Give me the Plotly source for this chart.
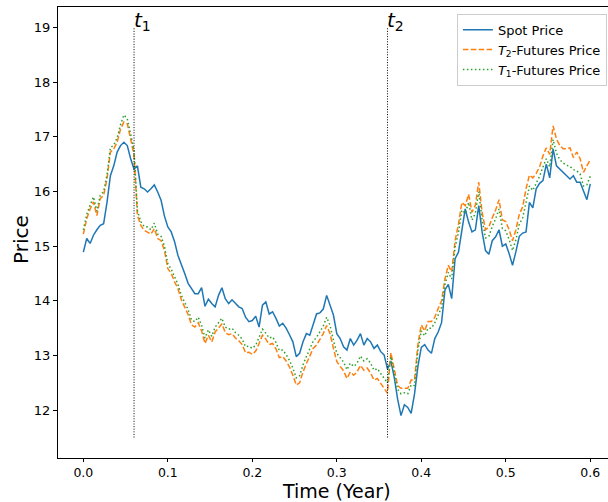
import plotly.graph_objects as go

# trading days (t = day / 250 years)
days = list(range(151))
t = [d / 250 for d in days]

spot = [14.89, 15.14, 15.05, 15.20, 15.30, 15.38, 15.41, 15.80, 16.29, 16.47,
        16.72, 16.84, 16.90, 16.84, 16.60, 16.41, 16.47, 16.08, 16.05, 15.99,
        16.05, 16.12, 15.99, 15.84, 15.55, 15.35, 15.26, 15.08, 14.83, 14.68,
        14.50, 14.32, 14.22, 14.13, 14.13, 14.24, 13.90, 14.03, 13.95, 13.89,
        14.10, 14.24, 14.04, 13.95, 14.02, 13.96, 13.89, 13.86, 13.70, 13.62,
        13.64, 13.72, 13.52, 13.92, 13.98, 13.76, 13.80, 13.68, 13.54, 13.59,
        13.50, 13.38, 13.25, 12.98, 13.04, 13.25, 13.40, 13.37, 13.58, 13.76,
        13.78, 13.85, 14.10, 13.92, 13.74, 13.40, 13.31, 13.16, 13.10, 13.31,
        13.19, 13.28, 13.40, 13.19, 13.31, 13.25, 13.13, 13.19, 13.07, 13.01,
        12.75, 12.90, 12.60, 12.20, 11.90, 12.10, 12.05, 11.94, 12.30, 12.80,
        13.15, 13.20, 13.10, 13.04, 13.31, 13.43, 13.60, 14.20, 14.30, 14.04,
        14.77, 14.89, 15.32, 15.68, 15.44, 15.26, 15.30, 15.74, 15.26, 14.92,
        14.85, 15.10, 15.17, 15.30, 15.00, 15.04, 14.86, 14.65, 14.90, 15.18,
        15.24, 15.26, 15.80, 15.70, 16.05, 16.15, 16.20, 16.50, 16.25, 16.78,
        16.47, 16.41, 16.35, 16.29, 16.23, 16.29, 16.17, 16.17, 15.99, 15.85,
        16.14]

fut_t2 = [15.22, 15.50, 15.68, 15.81, 15.56, 15.87, 15.93, 16.23, 16.72, 16.78,
          16.90, 17.14, 17.27, 17.24, 16.96, 16.66, 15.56, 15.38, 15.29, 15.26,
          15.22, 15.32, 15.14, 15.10, 14.92, 14.59, 14.50, 14.35, 14.22, 14.02,
          13.88, 13.75, 13.56, 13.52, 13.60, 13.45, 13.22, 13.37, 13.25, 13.43,
          13.50, 13.58, 13.42, 13.38, 13.40, 13.32, 13.27, 13.20, 13.05, 13.06,
          13.02, 13.08, 13.22, 13.37, 13.30, 13.20, 13.22, 13.12, 12.96, 12.98,
          12.90, 12.79, 12.64, 12.46, 12.50, 12.70, 12.85, 12.99, 13.13, 13.19,
          13.30, 13.40, 13.55, 13.40, 13.13, 12.89, 12.80, 12.72, 12.58, 12.70,
          12.64, 12.70, 12.82, 12.73, 12.77, 12.68, 12.55, 12.58, 12.49, 12.40,
          12.31, 13.05, 12.75, 12.45, 12.40, 12.40, 12.40, 12.55, 12.55, 13.20,
          13.56, 13.45, 13.62, 13.62, 13.70, 13.86, 14.00, 14.40, 14.65, 14.53,
          15.10, 15.40, 15.80, 15.74, 15.95, 15.62, 15.75, 16.17, 15.62, 15.30,
          15.35, 15.52, 15.66, 15.85, 15.48, 15.45, 15.30, 15.10, 15.30, 15.58,
          15.72, 16.05, 16.30, 16.25, 16.33, 16.45, 16.65, 16.80, 16.68, 17.20,
          16.96, 16.84, 16.78, 16.78, 16.80, 16.62, 16.72, 16.60, 16.35, 16.47,
          16.58]

fut_t1 = [15.30, 15.58, 15.75, 15.90, 15.64, 15.93, 16.00, 16.30, 16.80, 16.85,
          16.98, 17.22, 17.40, 17.33, 17.05, 16.75, 15.65, 15.45, 15.36, 15.35,
          15.30, 15.42, 15.22, 15.18, 15.00, 14.68, 14.58, 14.43, 14.30, 14.10,
          13.96, 13.84, 13.65, 13.62, 13.70, 13.55, 13.32, 13.47, 13.35, 13.52,
          13.60, 13.68, 13.52, 13.48, 13.50, 13.42, 13.37, 13.30, 13.16, 13.17,
          13.13, 13.19, 13.33, 13.48, 13.41, 13.32, 13.34, 13.24, 13.09, 13.10,
          13.02, 12.91, 12.77, 12.59, 12.63, 12.83, 12.98, 13.12, 13.26, 13.33,
          13.44, 13.54, 13.70, 13.55, 13.28, 13.04, 12.96, 12.88, 12.74, 12.86,
          12.80, 12.86, 12.99, 12.90, 12.94, 12.86, 12.73, 12.76, 12.67, 12.58,
          12.50, 12.98, 12.68, 12.38, 12.30, 12.32, 12.30, 12.46, 12.45, 13.10,
          13.45, 13.36, 13.50, 13.50, 13.60, 13.75, 13.88, 14.30, 14.52, 14.40,
          14.98, 15.25, 15.66, 15.60, 15.80, 15.48, 15.60, 16.00, 15.48, 15.15,
          15.18, 15.36, 15.50, 15.68, 15.32, 15.28, 15.12, 14.92, 15.12, 15.40,
          15.52, 15.80, 16.10, 16.02, 16.15, 16.28, 16.45, 16.60, 16.45, 16.95,
          16.70, 16.58, 16.52, 16.48, 16.46, 16.40, 16.38, 16.32, 16.10, 16.12,
          16.28]

mark_times = [0.06, 0.36]
mark_labels = ["<i>t</i><sub>1</sub>", "<i>t</i><sub>2</sub>"]
mark_ymin, mark_ymax = 11.5, 19.0

xticks = [0.0, 0.1, 0.2, 0.3, 0.4, 0.5, 0.6]
yticks = [12, 13, 14, 15, 16, 17, 18, 19]

FONT = "DejaVu Sans"
BOTTOM = 44
PLOT_H = 502 - 7 - BOTTOM

fig = go.Figure()
fig.add_trace(go.Scatter(x=t, y=spot, mode="lines", name="Spot Price",
                         line=dict(color="#1f77b4", width=1.5)))
fig.add_trace(go.Scatter(x=t, y=fut_t2, mode="lines",
                         name="<i>T</i><sub>2</sub>-Futures Price",
                         line=dict(color="#ff7f0e", width=1.5, dash="5.5px,2.4px")))
fig.add_trace(go.Scatter(x=t, y=fut_t1, mode="lines",
                         name="<i>T</i><sub>1</sub>-Futures Price",
                         line=dict(color="#2ca02c", width=1.5, dash="1.5px,2.5px")))

for xm, lab in zip(mark_times, mark_labels):
    fig.add_shape(type="line", x0=xm, x1=xm, y0=mark_ymin, y1=mark_ymax,
                  xref="x", yref="y", line=dict(color="black", width=1, dash="1px,1.6px"))
    fig.add_annotation(x=xm, y=mark_ymax, text=lab, showarrow=False,
                       xanchor="left", yanchor="bottom", yshift=-8, xshift=-2,
                       font=dict(family=FONT, size=20, color="black"))

# axis titles as annotations for exact placement
fig.add_annotation(text="Time (Year)", xref="paper", yref="paper",
                   x=(336 - 58) / 550, y=-(502 - (502 - BOTTOM)) / PLOT_H,
                   xanchor="center", yanchor="bottom", showarrow=False, borderpad=0,
                   height=20, valign="middle",
                   font=dict(family=FONT, size=19, color="black"))
fig.add_annotation(text="Price", xref="paper", yref="paper",
                   x=-(58 - 21) / 550, y=(502 - BOTTOM - 240) / PLOT_H, textangle=-90,
                   xanchor="center", yanchor="middle", showarrow=False,
                   font=dict(family=FONT, size=20, color="black"))

fig.update_layout(
    width=608, height=502,
    margin=dict(l=58, r=0, t=7, b=BOTTOM),
    paper_bgcolor="white", plot_bgcolor="white",
    font=dict(family=FONT, size=12, color="black"),
    showlegend=True,
    legend=dict(x=0.998, y=0.985, xanchor="right", yanchor="top",
                bgcolor="rgba(255,255,255,0.8)", bordercolor="#cccccc", borderwidth=1,
                font=dict(family=FONT, size=13, color="black"),
                tracegroupgap=0, itemwidth=30),
    xaxis=dict(range=[-0.03, 0.621], tickvals=xticks,
               ticktext=[f"{v:.1f}" for v in xticks],
               showgrid=False, zeroline=False, showline=True, linecolor="black",
               linewidth=1, mirror=True, ticks="outside", ticklen=3, tickcolor="black",
               tickfont=dict(size=12.5)),
    yaxis=dict(range=[11.125, 19.375], tickvals=yticks,
               showgrid=False, zeroline=False, showline=True, linecolor="black",
               linewidth=1, ticks="outside", ticklen=4, tickcolor="black",
               tickfont=dict(size=13)),
)

fig.write_html("out.html")
